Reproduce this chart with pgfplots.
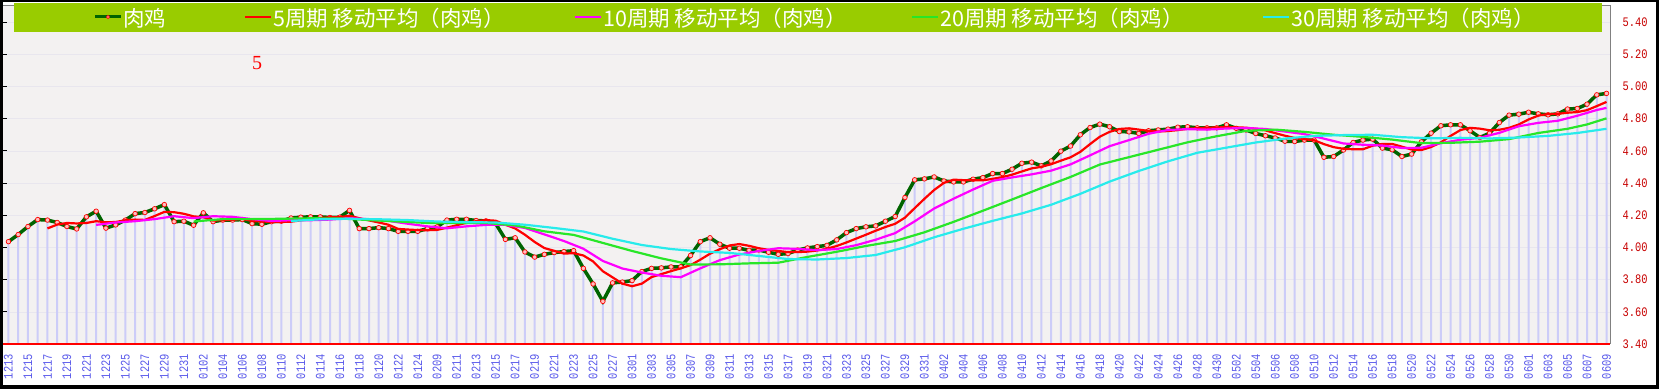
\documentclass[border=0pt]{standalone}
\usepackage{pgfplots}
\pgfplotsset{compat=1.18}
\usepackage{pgfplotstable}
\usepackage{fontspec}
\newfontfamily\cjk{Noto Sans CJK SC}
\newfontfamily\tickf[FakeStretch=0.8]{Liberation Mono}
\newfontfamily\serf{Liberation Serif}
\definecolor{paperbg}{RGB}{243,241,241}
\definecolor{gridc}{RGB}{232,230,238}
\definecolor{barc}{RGB}{204,204,248}
\definecolor{rjgreen}{RGB}{0,100,0}
\definecolor{ma5}{RGB}{255,0,0}
\definecolor{ma10}{RGB}{255,0,255}
\definecolor{ma20}{RGB}{40,230,40}
\definecolor{ma30}{RGB}{40,235,235}
\definecolor{legbg}{RGB}{153,204,0}
\definecolor{ylab}{RGB}{200,0,0}
\definecolor{xlab}{RGB}{90,90,235}

\pgfplotstableread{
x y
0 4.036
1 4.080
2 4.130
3 4.173
4 4.170
5 4.155
6 4.130
7 4.115
8 4.190
9 4.225
10 4.120
11 4.140
12 4.170
13 4.210
14 4.217
15 4.240
16 4.266
17 4.160
18 4.163
19 4.138
20 4.215
21 4.160
22 4.170
23 4.170
24 4.173
25 4.148
26 4.144
27 4.160
28 4.163
29 4.183
30 4.188
31 4.190
32 4.190
33 4.186
34 4.188
35 4.230
36 4.117
37 4.117
38 4.123
39 4.117
40 4.100
41 4.100
42 4.100
43 4.117
44 4.128
45 4.170
46 4.175
47 4.175
48 4.167
49 4.165
50 4.148
51 4.050
52 4.060
53 3.972
54 3.940
55 3.957
56 3.968
57 3.974
58 3.980
59 3.870
60 3.773
61 3.665
62 3.780
63 3.785
64 3.794
65 3.850
66 3.870
67 3.873
68 3.879
69 3.880
70 3.950
71 4.036
72 4.060
73 4.020
74 3.995
75 3.995
76 3.982
77 3.984
78 3.970
79 3.957
80 3.962
81 3.984
82 3.997
83 4.005
84 4.013
85 4.047
86 4.092
87 4.117
88 4.128
89 4.134
90 4.163
91 4.192
92 4.310
93 4.420
94 4.426
95 4.438
96 4.413
97 4.407
98 4.407
99 4.424
100 4.434
101 4.459
102 4.459
103 4.486
104 4.523
105 4.530
106 4.507
107 4.537
108 4.598
109 4.630
110 4.700
111 4.745
112 4.766
113 4.750
114 4.720
115 4.718
116 4.708
117 4.725
118 4.730
119 4.735
120 4.747
121 4.750
122 4.743
123 4.743
124 4.743
125 4.762
126 4.740
127 4.730
128 4.708
129 4.694
130 4.680
131 4.660
132 4.658
133 4.667
134 4.667
135 4.560
136 4.565
137 4.605
138 4.652
139 4.667
140 4.673
141 4.617
142 4.607
143 4.565
144 4.580
145 4.656
146 4.710
147 4.756
148 4.762
149 4.762
150 4.725
151 4.683
152 4.710
153 4.776
154 4.822
155 4.828
156 4.840
157 4.830
158 4.824
159 4.830
160 4.860
161 4.863
162 4.890
163 4.948
164 4.957
}\rj

\pgfplotstableread{
x y
4 4.118
5 4.142
6 4.152
7 4.149
8 4.152
9 4.163
10 4.156
11 4.158
12 4.169
13 4.173
14 4.171
15 4.195
16 4.221
17 4.219
18 4.209
19 4.193
20 4.188
21 4.167
22 4.169
23 4.171
24 4.178
25 4.164
26 4.161
27 4.159
28 4.158
29 4.160
30 4.168
31 4.177
32 4.183
33 4.187
34 4.188
35 4.197
36 4.182
37 4.168
38 4.155
39 4.141
40 4.115
41 4.111
42 4.108
43 4.107
44 4.109
45 4.123
46 4.138
47 4.153
48 4.163
49 4.170
50 4.166
51 4.141
52 4.118
53 4.079
54 4.034
55 3.996
56 3.979
57 3.962
58 3.964
59 3.950
60 3.913
61 3.852
62 3.814
63 3.775
64 3.759
65 3.775
66 3.816
67 3.834
68 3.853
69 3.870
70 3.890
71 3.924
72 3.961
73 3.989
74 4.012
75 4.021
76 4.010
77 3.995
78 3.985
79 3.978
80 3.971
81 3.971
82 3.974
83 3.981
84 3.992
85 4.009
86 4.031
87 4.055
88 4.079
89 4.104
90 4.127
91 4.147
92 4.185
93 4.244
94 4.302
95 4.357
96 4.401
97 4.421
98 4.418
99 4.418
100 4.417
101 4.426
102 4.437
103 4.452
104 4.472
105 4.491
106 4.501
107 4.517
108 4.539
109 4.560
110 4.594
111 4.642
112 4.688
113 4.718
114 4.736
115 4.740
116 4.732
117 4.724
118 4.720
119 4.723
120 4.729
121 4.737
122 4.741
123 4.744
124 4.745
125 4.748
126 4.746
127 4.744
128 4.737
129 4.727
130 4.710
131 4.694
132 4.680
133 4.672
134 4.666
135 4.642
136 4.623
137 4.613
138 4.610
139 4.610
140 4.632
141 4.643
142 4.643
143 4.626
144 4.608
145 4.605
146 4.624
147 4.653
148 4.693
149 4.729
150 4.743
151 4.738
152 4.728
153 4.731
154 4.743
155 4.764
156 4.795
157 4.819
158 4.829
159 4.830
160 4.837
161 4.841
162 4.853
163 4.878
164 4.904
}\maf

\pgfplotstableread{
x y
9 4.140
11 4.155
13 4.163
15 4.176
17 4.194
19 4.182
21 4.194
23 4.190
25 4.176
27 4.164
29 4.169
31 4.169
33 4.173
35 4.182
37 4.175
39 4.165
41 4.147
43 4.131
45 4.119
47 4.131
49 4.140
51 4.140
53 4.121
55 4.081
57 4.040
59 3.992
61 3.916
63 3.869
65 3.844
67 3.824
69 3.815
71 3.870
73 3.921
75 3.956
77 3.978
79 3.995
81 3.991
83 3.983
85 3.990
87 4.014
89 4.048
91 4.089
93 4.162
95 4.242
97 4.303
99 4.360
101 4.414
103 4.435
105 4.454
107 4.477
109 4.516
111 4.572
113 4.629
115 4.667
117 4.706
119 4.730
121 4.735
123 4.732
125 4.739
127 4.742
129 4.736
131 4.720
133 4.704
135 4.676
137 4.646
139 4.638
141 4.633
143 4.618
145 4.619
147 4.648
149 4.669
151 4.681
153 4.712
155 4.753
157 4.774
159 4.787
161 4.818
163 4.854
164 4.867
}\mat

\pgfplotstableread{
x y
19 4.161
22 4.176
25 4.176
28 4.178
31 4.181
34 4.180
37 4.170
40 4.161
43 4.152
46 4.152
49 4.152
52 4.137
55 4.100
58 4.078
61 4.028
64 3.978
67 3.932
70 3.894
73 3.895
76 3.901
79 3.905
82 3.941
85 3.973
88 4.009
91 4.040
94 4.094
97 4.159
100 4.228
103 4.298
106 4.369
109 4.438
112 4.515
115 4.561
118 4.607
121 4.653
124 4.691
127 4.724
130 4.732
133 4.718
136 4.700
139 4.687
142 4.670
145 4.648
148 4.650
151 4.657
154 4.673
157 4.711
160 4.737
162 4.764
164 4.802
}\matw

\pgfplotstableread{
x y
29 4.164
32 4.175
35 4.178
38 4.175
41 4.170
44 4.161
47 4.157
50 4.155
53 4.141
56 4.121
59 4.099
62 4.054
65 4.015
68 3.990
71 3.975
74 3.966
77 3.947
80 3.928
83 3.925
86 3.934
89 3.953
92 4.001
95 4.063
98 4.116
101 4.165
104 4.211
107 4.265
110 4.333
113 4.409
116 4.475
119 4.535
122 4.588
125 4.620
128 4.652
131 4.676
134 4.693
137 4.698
140 4.700
143 4.685
146 4.678
149 4.681
152 4.677
155 4.683
158 4.693
161 4.711
164 4.737
}\math

\begin{document}
\begin{tikzpicture}[x=1pt,y=1pt]
\useasboundingbox (0,0) rectangle (1659,389);
\fill[white] (0,0) rectangle (1659,389);
\begin{axis}[
  at={(3.3pt,45pt)}, anchor=south west, scale only axis,
  width=1606.7pt, height=338pt,
  xmin=-0.53, xmax=164.36, ymin=3.4, ymax=5.5,
  axis background/.style={fill=paperbg},
  axis line style={draw=none},
  xtick={0,2,...,164}, minor x tick num=1,
  xticklabels={1213,1215,1217,1219,1221,1223,1225,1227,1229,1231,
    0102,0104,0106,0108,0110,0112,0114,0116,0118,0120,0122,0124,
    0209,0211,0213,0215,0217,0219,0221,0223,0225,0227,
    0301,0303,0305,0307,0309,0311,0313,0315,0317,0319,0321,0323,0325,0327,0329,0331,
    0402,0404,0406,0408,0410,0412,0414,0416,0418,0420,0422,0424,0426,0428,0430,
    0502,0504,0506,0508,0510,0512,0514,0516,0518,0520,0522,0524,0526,0528,0530,
    0601,0603,0605,0607,0609},
  ytick={3.4,3.6,3.8,4.0,4.2,4.4,4.6,4.8,5.0,5.2,5.4},
  xtick pos=left, ytick pos=left, yticklabel pos=right,
  tick align=inside, major tick length=3.5pt, minor tick length=3.5pt,
  x tick style={ma5, line width=1pt}, y tick style={black, line width=1pt},
  ymajorgrids, major grid style={gridc, line width=0.6pt},
  xticklabel style={yshift=-10pt, rotate=90, anchor=east, inner sep=0pt,
    font=\tickf\fontsize{13}{13}\selectfont, text=xlab},
  yticklabel style={anchor=west, inner sep=0pt, xshift=12.5pt,
    font=\tickf\fontsize{13}{13}\selectfont, text=ylab,
    /pgf/number format/.cd, fixed, fixed zerofill, precision=2, assume math mode=true},
  clip mode=individual,
]
\addplot[ybar, bar width=2pt, fill=barc, draw=none, forget plot] table[x=x,y=y]{\rj};
\addplot[rjgreen, line width=3.5pt, mark=*, mark size=2.3pt,
  mark options={solid, fill=white!75!red, draw=red, line width=0.7pt}] table[x=x,y=y]{\rj};
\addplot[ma5, line width=2.2pt] table[x=x,y=y]{\maf};
\addplot[ma10, line width=2.2pt] table[x=x,y=y]{\mat};
\addplot[ma20, line width=2.2pt] table[x=x,y=y]{\matw};
\addplot[ma30, line width=2.2pt] table[x=x,y=y]{\math};
\end{axis}
% plot frame
\draw[gray, line width=1pt] (1610,45) -- (1610,383) -- (3.3,383);
\draw[red, line width=1.2pt] (3.3,45) -- (1610,45);
% legend band
\fill[legbg] (14,357) rectangle (1601.7,386);
\begin{scope}[every node/.style={anchor=west, inner sep=0pt, text=white, font=\cjk\fontsize{21.5}{21.5}\selectfont}]
\draw[rjgreen, line width=3pt] (95,372) -- (121,372);
\draw[red, fill=white!75!red, line width=0.6pt] (108,372) circle (1.6);
\node at (123,371) {肉鸡};
\draw[ma5, line width=2.4pt] (245,372) -- (271,372);
\node at (273,371) {5周期 移动平均（肉鸡）};
\draw[ma10, line width=2.4pt] (575,372) -- (601,372);
\node at (603,371) {10周期 移动平均（肉鸡）};
\draw[ma20, line width=2.4pt] (912,372) -- (938,372);
\node at (940,371) {20周期 移动平均（肉鸡）};
\draw[ma30, line width=2.4pt] (1263,372) -- (1289,372);
\node at (1291,371) {30周期 移动平均（肉鸡）};
\end{scope}
\node[text=red, font=\serf\fontsize{20}{20}\selectfont, inner sep=0pt] at (257,326) {5};
% outer frame
\fill[black] (0,0) rectangle (3,389);
\fill[black] (0,387) rectangle (1659,389);
\fill[black] (1656,0) rectangle (1659,389);
\fill[black] (0,0) rectangle (1659,4.5);
\end{tikzpicture}
\end{document}
